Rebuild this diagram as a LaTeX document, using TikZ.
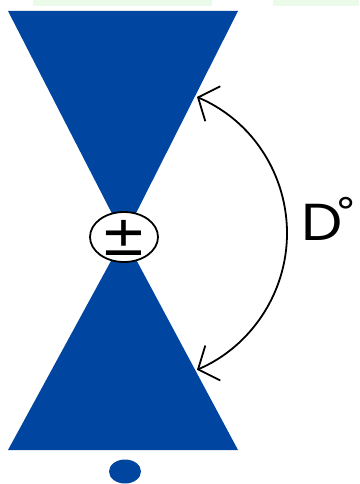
\documentclass[tikz,border=0pt]{standalone}
\usepackage{fontspec}
\setmainfont{Poppins}
\newfontfamily\symfont{DejaVu Sans}
\usetikzlibrary{shapes.geometric,arrows.meta}
\definecolor{coneblue}{RGB}{0,70,160}
\definecolor{faintgreen}{RGB}{234,251,234}
\tikzset{
  cone/.style={fill=coneblue, draw=none},
  angarrow/.style={draw=black, line width=1.8pt, {Straight Barb[length=16pt,width=38pt,line width=1.8pt]}-{Straight Barb[length=16pt,width=38pt,line width=1.8pt]}},
  pmnode/.style={draw=black, fill=white, ellipse, line width=1.8pt, minimum width=68pt, minimum height=50pt, inner sep=0pt},
  lbl/.style={inner sep=0pt, font=\fontsize{52}{52}\selectfont}
}
\begin{document}
\begin{tikzpicture}[x=1pt,y=-1pt]
\useasboundingbox (0,0) rectangle (359,484);
\fill[white] (0,0) rectangle (359,484);
% faint strips at top
\fill[faintgreen] (33,0) rectangle (212,6);
\fill[faintgreen] (273,0) rectangle (359,6);
% cones
\coordinate (apex) at (124,237);
\fill[cone] (8,11) -- (238,11) -- (apex) -- cycle;
\fill[cone] (8,450) -- (238,450) -- (apex) -- cycle;
% charge
\node[pmnode] (pm) at (apex) {};
\node[inner sep=0pt, font=\symfont\fontsize{56}{56}\selectfont] (pmtext) at (124,238) {±};
% angle arc
\coordinate (atop) at (197,97);
\draw[angarrow] (atop) arc[start angle=-66.8, end angle=66.8, radius=148.4];
\node[lbl, anchor=base west, xscale=1.12] (dlab) at (301,240) {D\kern-6pt{\symfont\fontsize{38}{38}\selectfont\raisebox{15pt}{°}}};
% dot
\fill[coneblue] (125,471.5) ellipse[x radius=16, y radius=12];
\end{tikzpicture}
\end{document}
